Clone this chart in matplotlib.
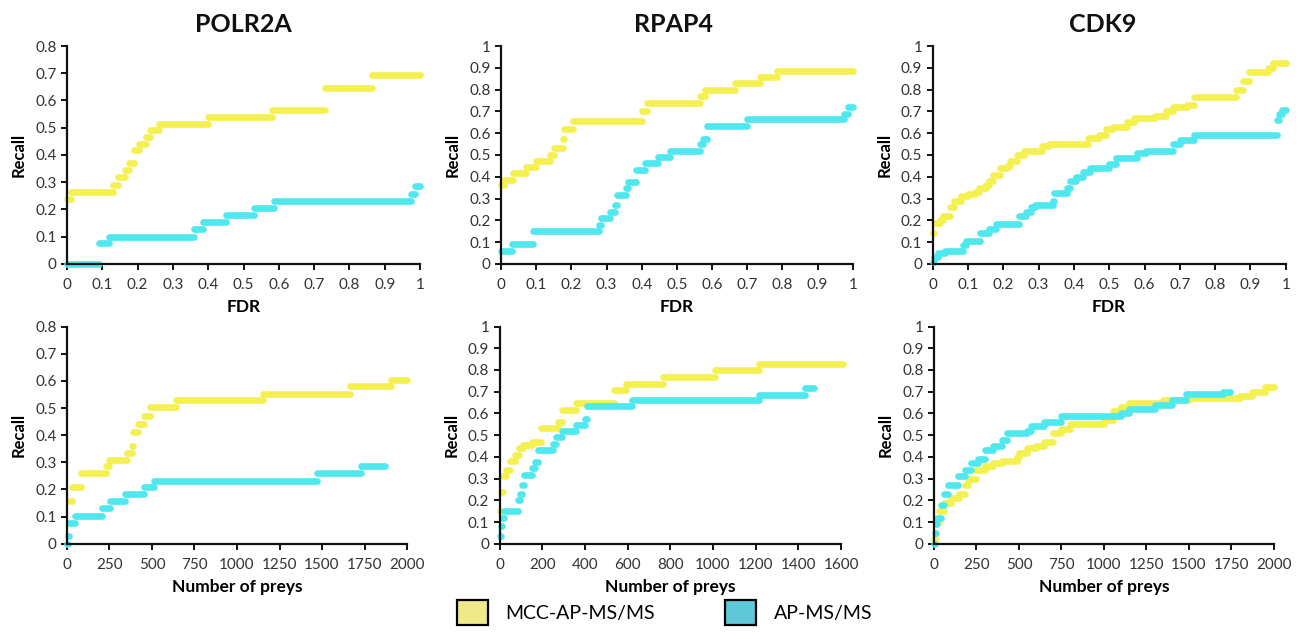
import matplotlib

matplotlib.use("Agg")
import matplotlib.pyplot as plt  # noqa: E402
from matplotlib.patches import Patch  # noqa: E402

plt.rcParams["font.family"] = ["Lato", "DejaVu Sans"]

MCC_COLOR = "#f3f050"
AP_COLOR = "#4ee8ee"
MCC_LEGEND = "#efe98a"
AP_LEGEND = "#5ec8d8"

TITLES = ["POLR2A", "RPAP4", "CDK9"]
SERIES_NAMES = ["MCC-AP-MS/MS", "AP-MS/MS"]

# --- recall vs FDR (top row); each y holds from its x up to the next x ---
polr2a_fdr_mcc_x = [0, 0.012, 0.13, 0.145, 0.165, 0.175, 0.19, 0.205, 0.225, 0.235,
                    0.26, 0.40, 0.58, 0.73, 0.865, 1.0]
polr2a_fdr_mcc_y = [0.24, 0.265, 0.29, 0.32, 0.345, 0.37, 0.42, 0.44, 0.465, 0.49,
                    0.515, 0.54, 0.565, 0.645, 0.695, 0.695]
polr2a_fdr_ap_x = [0, 0.09, 0.12, 0.36, 0.385, 0.45, 0.53, 0.585, 0.975, 0.985, 1.0]
polr2a_fdr_ap_y = [0, 0.077, 0.10, 0.128, 0.153, 0.18, 0.205, 0.23, 0.255, 0.285, 0.285]

rpap4_fdr_mcc_x = [0, 0.01, 0.035, 0.07, 0.10, 0.14, 0.15, 0.175, 0.18, 0.205,
                   0.40, 0.415, 0.565, 0.58, 0.665, 0.735, 0.785, 1.0]
rpap4_fdr_mcc_y = [0.36, 0.385, 0.415, 0.445, 0.472, 0.50, 0.532, 0.575, 0.62, 0.655,
                   0.70, 0.74, 0.77, 0.80, 0.83, 0.86, 0.885, 0.885]
rpap4_fdr_ap_x = [0, 0.03, 0.09, 0.28, 0.285, 0.31, 0.325, 0.33, 0.355, 0.36, 0.385,
                  0.41, 0.445, 0.48, 0.565, 0.575, 0.585, 0.70, 0.975, 0.985, 1.0]
rpap4_fdr_ap_y = [0.06, 0.09, 0.153, 0.18, 0.21, 0.24, 0.27, 0.317, 0.35, 0.374, 0.432,
                  0.463, 0.49, 0.517, 0.55, 0.575, 0.632, 0.663, 0.69, 0.72, 0.72]

cdk9_fdr_mcc_x = [0, 0.005, 0.02, 0.03, 0.05, 0.06, 0.08, 0.10, 0.12, 0.13,
                  0.15, 0.16, 0.17, 0.19, 0.21, 0.22, 0.24, 0.26, 0.31, 0.33,
                  0.44, 0.47, 0.49, 0.51, 0.55, 0.57, 0.63, 0.66, 0.68, 0.72,
                  0.74, 0.86, 0.88, 0.895, 0.95, 0.965, 1.0]
cdk9_fdr_mcc_y = [0.14, 0.19, 0.20, 0.22, 0.26, 0.29, 0.31, 0.32, 0.33, 0.35,
                  0.36, 0.38, 0.41, 0.44, 0.45, 0.47, 0.50, 0.52, 0.54, 0.55,
                  0.58, 0.59, 0.62, 0.63, 0.65, 0.67, 0.68, 0.70, 0.72, 0.73,
                  0.765, 0.80, 0.84, 0.88, 0.90, 0.92, 0.92]
cdk9_fdr_ap_x = [0, 0.005, 0.015, 0.035, 0.085, 0.095, 0.135, 0.16, 0.18, 0.245,
                 0.265, 0.28, 0.29, 0.34, 0.345, 0.38, 0.39, 0.405, 0.425, 0.445,
                 0.50, 0.52, 0.58, 0.605, 0.68, 0.70, 0.74, 0.975, 0.98, 0.99, 1.0]
cdk9_fdr_ap_y = [0.01, 0.03, 0.05, 0.06, 0.087, 0.107, 0.14, 0.16, 0.184, 0.22,
                 0.24, 0.26, 0.27, 0.287, 0.325, 0.35, 0.38, 0.40, 0.42, 0.44,
                 0.46, 0.486, 0.51, 0.52, 0.55, 0.57, 0.593, 0.66, 0.69, 0.705, 0.705]

# --- recall vs number of preys (bottom row) ---
polr2a_prey_mcc_x = [20, 30, 85, 230, 245, 355, 380, 390, 420, 455,
                     490, 640, 1150, 1665, 1908, 2000]
polr2a_prey_mcc_y = [0.156, 0.209, 0.26, 0.285, 0.31, 0.335, 0.36, 0.41, 0.44, 0.47,
                     0.503, 0.528, 0.552, 0.58, 0.604, 0.604]
polr2a_prey_ap_x = [0, 5, 12, 50, 205, 255, 340, 455, 510, 1468, 1732, 1870]
polr2a_prey_ap_y = [0, 0.03, 0.076, 0.104, 0.13, 0.156, 0.183, 0.209, 0.233, 0.26, 0.285, 0.285]

rpap4_prey_mcc_x = [3, 8, 18, 30, 50, 70, 90, 110, 150, 195,
                    275, 290, 360, 535, 590, 766, 1009, 1215, 1610]
rpap4_prey_mcc_y = [0.15, 0.24, 0.31, 0.34, 0.38, 0.41, 0.44, 0.455, 0.47, 0.532,
                    0.56, 0.617, 0.647, 0.709, 0.736, 0.767, 0.798, 0.827, 0.827]
rpap4_prey_ap_x = [0, 5, 12, 20, 85, 95, 105, 115, 150, 165, 180,
                   250, 265, 290, 360, 400, 410, 620, 1215, 1430, 1472]
rpap4_prey_ap_y = [0.034, 0.08, 0.12, 0.153, 0.2, 0.23, 0.27, 0.317, 0.35, 0.375, 0.432,
                   0.46, 0.49, 0.517, 0.545, 0.575, 0.632, 0.663, 0.686, 0.716, 0.716]

cdk9_prey_mcc_x = [0, 10, 30, 60, 100, 150, 180, 200, 250, 300,
                   350, 400, 490, 500, 550, 600, 650, 700, 750, 800,
                   1000, 1055, 1100, 1150, 1350, 1500, 1800, 1870, 1950, 2000]
cdk9_prey_mcc_y = [0.02, 0.10, 0.15, 0.19, 0.21, 0.23, 0.27, 0.30, 0.34, 0.36,
                   0.37, 0.38, 0.40, 0.42, 0.44, 0.45, 0.47, 0.51, 0.53, 0.55,
                   0.57, 0.61, 0.63, 0.65, 0.66, 0.67, 0.68, 0.70, 0.72, 0.72]
cdk9_prey_ap_x = [0, 5, 10, 20, 40, 60, 80, 140, 180, 220, 260, 300, 350, 400,
                  430, 550, 570, 650, 750, 1050, 1100, 1150, 1300, 1400, 1480, 1700, 1740]
cdk9_prey_ap_y = [0.0, 0.05, 0.09, 0.12, 0.18, 0.23, 0.27, 0.31, 0.34, 0.37, 0.39, 0.43, 0.45, 0.48,
                  0.51, 0.52, 0.54, 0.56, 0.59, 0.59, 0.60, 0.62, 0.64, 0.66, 0.69, 0.70, 0.71]

fdr_ticks = [0, 0.1, 0.2, 0.3, 0.4, 0.5, 0.6, 0.7, 0.8, 0.9, 1]
recall_ticks_08 = [0, 0.1, 0.2, 0.3, 0.4, 0.5, 0.6, 0.7, 0.8]
recall_ticks_10 = [0, 0.1, 0.2, 0.3, 0.4, 0.5, 0.6, 0.7, 0.8, 0.9, 1]
prey_ticks_2000 = [0, 250, 500, 750, 1000, 1250, 1500, 1750, 2000]
prey_ticks_1600 = [0, 200, 400, 600, 800, 1000, 1200, 1400, 1600]

panels = [
    # (axes rect, mcc, ap, xticks, yticks, xlabel)
    ([0.0512, 0.587, 0.270, 0.341], (polr2a_fdr_mcc_x, polr2a_fdr_mcc_y),
     (polr2a_fdr_ap_x, polr2a_fdr_ap_y), fdr_ticks, recall_ticks_08, "FDR"),
    ([0.383, 0.587, 0.269, 0.341], (rpap4_fdr_mcc_x, rpap4_fdr_mcc_y),
     (rpap4_fdr_ap_x, rpap4_fdr_ap_y), fdr_ticks, recall_ticks_10, "FDR"),
    ([0.713, 0.587, 0.270, 0.341], (cdk9_fdr_mcc_x, cdk9_fdr_mcc_y),
     (cdk9_fdr_ap_x, cdk9_fdr_ap_y), fdr_ticks, recall_ticks_10, "FDR"),
    ([0.0512, 0.149, 0.260, 0.340], (polr2a_prey_mcc_x, polr2a_prey_mcc_y),
     (polr2a_prey_ap_x, polr2a_prey_ap_y), prey_ticks_2000, recall_ticks_08, "Number of preys"),
    ([0.382, 0.149, 0.261, 0.340], (rpap4_prey_mcc_x, rpap4_prey_mcc_y),
     (rpap4_prey_ap_x, rpap4_prey_ap_y), prey_ticks_1600, recall_ticks_10, "Number of preys"),
    ([0.714, 0.149, 0.260, 0.340], (cdk9_prey_mcc_x, cdk9_prey_mcc_y),
     (cdk9_prey_ap_x, cdk9_prey_ap_y), prey_ticks_2000, recall_ticks_10, "Number of preys"),
]

fig = plt.figure(figsize=(13.08, 6.39), dpi=100)

for rect, mcc, ap, xticks, yticks, xlabel in panels:
    ax = fig.add_axes(rect)
    for (xs, ys), color in ((mcc, MCC_COLOR), (ap, AP_COLOR)):
        # flat runs only; the jumps between them are left open as in the original
        ax.hlines(ys[:-1], xs[:-1], xs[1:], colors=color, lw=4.8,
                  capstyle="round", clip_on=False)
    ax.set_xlim(0, xticks[-1])
    ax.set_ylim(0, yticks[-1])
    ax.set_xticks(xticks)
    ax.set_xticklabels([f"{t:g}" for t in xticks])
    ax.set_yticks(yticks)
    ax.set_yticklabels([f"{t:g}" for t in yticks])
    for side in ("top", "right"):
        ax.spines[side].set_visible(False)
    for side in ("left", "bottom"):
        ax.spines[side].set_linewidth(1.6)
        ax.spines[side].set_color("#111111")
    ax.tick_params(axis="both", direction="out", length=4, width=1.4,
                   labelsize=11, colors="#111111", labelcolor="#333333")
    ax.tick_params(axis="x", pad=6)
    ax.set_xlabel(xlabel, fontsize=12.5, fontweight="bold", labelpad=5)
    ax.set_ylabel("Recall", fontsize=12, fontweight="bold", labelpad=6)

for title, xc in zip(TITLES, [243, 673, 1103]):
    fig.text(xc / 1308, 1 - 25 / 639, title, ha="center", va="center",
             fontsize=18, fontweight="bold", color="#111111")

handles = [
    Patch(facecolor=MCC_LEGEND, edgecolor="black", linewidth=1.6, label=SERIES_NAMES[0]),
    Patch(facecolor=AP_LEGEND, edgecolor="black", linewidth=1.6, label=SERIES_NAMES[1]),
]
fig.legend(handles=handles, loc="lower center", bbox_to_anchor=(0.508, -0.005), ncol=2,
           frameon=False, fontsize=14, handlelength=1.6, handleheight=1.6,
           columnspacing=3.6, handletextpad=0.9)

fig.savefig("out.png", dpi=100)
